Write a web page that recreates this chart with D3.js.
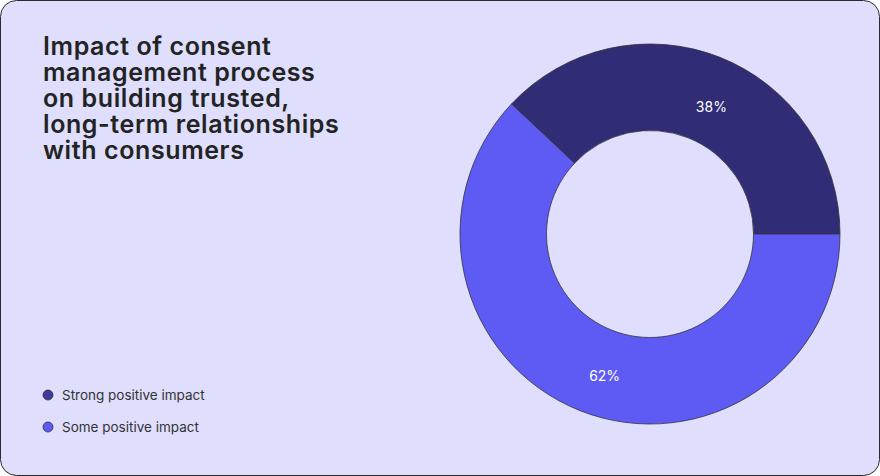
<!DOCTYPE html>
<html>
<head>
<meta charset="utf-8">
<script src="https://cdn.jsdelivr.net/npm/d3@7"></script>
<style>
  html, body { margin: 0; padding: 0; background: #fff; }
  svg { display: block; }
  text { font-family: Inter, "Noto Sans", sans-serif; }
</style>
</head>
<body>
<svg class="chart"></svg>
<script>
/* data */
const categories = ["Strong positive impact", "Some positive impact"]
const values = [38, 62]
const colors = ["#302C76", "#5D5BF4"]
const titleLines = ["Impact of consent", "management process", "on building trusted,", "long-term relationships", "with consumers"]

const width = 880, height = 476

const svg = d3.select("svg.chart")
    .attr("width", width)
    .attr("height", height)

svg.append("rect")
    .attr("x", 0.5)
    .attr("y", 0.5)
    .attr("width", width - 1)
    .attr("height", height - 1)
    .attr("rx", 16)
    .attr("fill", "#DFDEFC")
    .attr("stroke", "#2b2b2b")
    .attr("stroke-width", 1)

/* title, one text per line */
svg.selectAll("text.title")
    .data(titleLines)
    .enter()
    .append("text")
    .attr("class", "title")
    .attr("x", 43)
    .attr("y", (d, i) => 55 + i * 26)
    .attr("fill", "#232323")
    .style("font-size", "25px")
    .style("font-weight", 600)
    .style("letter-spacing", "0.6px")
    .text(d => d)

/* donut */
const cx = 650, cy = 234, outerR = 190, innerR = 103.5

const start = Math.PI / 2 - 2 * Math.PI * values[0] / 100

const pie = d3.pie()
    .sort(null)
    .value(d => d.value)
    .startAngle(start)
    .endAngle(start + 2 * Math.PI)

const arc = d3.arc().innerRadius(innerR).outerRadius(outerR)
const labelArc = d3.arc().innerRadius(145).outerRadius(145)

const data = categories.map((c, i) => ({name: c, value: values[i], color: colors[i]}))

const g = svg.append("g")
    .attr("transform", "translate(" + cx + "," + cy + ")")

const slices = g.selectAll("g.slice")
    .data(pie(data))
    .enter()
    .append("g")
    .attr("class", "slice")

slices.append("path")
    .attr("d", arc)
    .attr("fill", d => d.data.color)
    .attr("stroke", "#333")
    .attr("stroke-width", 0.8)

slices.append("text")
    .attr("transform", d => {
        const c = labelArc.centroid(d)
        return "translate(" + (c[0] + 8) + "," + (c[1] + 7) + ")"
    })
    .attr("text-anchor", "middle")
    .attr("dominant-baseline", "central")
    .attr("fill", "#fff")
    .style("font-size", "14px")
    .text(d => d.data.value + "%")

/* legend */
const legend = svg.selectAll("g.legend")
    .data(data)
    .enter()
    .append("g")
    .attr("class", "legend")
    .attr("transform", (d, i) => "translate(48," + (395 + i * 32) + ")")

legend.append("circle")
    .attr("r", 5)
    .attr("fill", d => d.color === colors[0] ? "#3D3A99" : d.color)
    .attr("stroke", "#333")
    .attr("stroke-width", 0.8)

legend.append("text")
    .attr("x", 14)
    .attr("dy", "0.35em")
    .attr("fill", "#333")
    .style("font-size", "13.5px")
    .text(d => d.name)
</script>
</body>
</html>
